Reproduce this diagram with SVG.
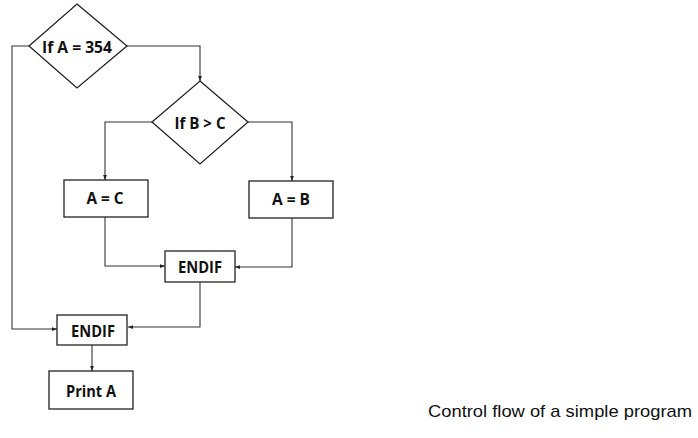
<svg xmlns="http://www.w3.org/2000/svg" width="698" height="438" viewBox="0 0 698 438">
<defs>
<style>
.shape{fill:#fff;stroke:#222;stroke-width:1.3}
.lbl{font-family:"Open Sans","Noto Sans",sans-serif;font-weight:bold;font-size:16.5px;fill:#111;text-anchor:middle}
.conn{fill:none;stroke:#333;stroke-width:1.1}
.cap{font-family:"Liberation Sans",Arial,sans-serif;font-size:17px;fill:#111}
</style>
<marker id="arr" viewBox="0 0 8 6" refX="8" refY="3" markerWidth="5" markerHeight="4" orient="auto" markerUnits="userSpaceOnUse">
<path d="M0,0 L8,3 L0,6 z" fill="#222"/>
</marker>
</defs>
<rect width="698" height="438" fill="#fff"/>
<g id="connectors">
<polyline class="conn" points="127,46 200,46 200,81" marker-end="url(#arr)"/>
<polyline class="conn" points="29,46 12,46 12,329 57,329" marker-end="url(#arr)"/>
<polyline class="conn" points="152,122 105,122 105,180" marker-end="url(#arr)"/>
<polyline class="conn" points="248,122 292,122 292,181" marker-end="url(#arr)"/>
<polyline class="conn" points="105,217 105,266 165,266" marker-end="url(#arr)"/>
<polyline class="conn" points="292,218 292,267 235,267" marker-end="url(#arr)"/>
<polyline class="conn" points="200,282 200,327 128,327" marker-end="url(#arr)"/>
<polyline class="conn" points="92,344 92,371" marker-end="url(#arr)"/>
</g>
<g id="if-a">
<polygon class="shape" points="77,4 127,46 77,88 29,46"/>
<text class="lbl" x="77" y="52.5" textLength="70" lengthAdjust="spacingAndGlyphs">If A = 354</text>
</g>
<g id="if-b">
<polygon class="shape" points="200,81 248,122 200,164 152,122"/>
<text class="lbl" x="200" y="129" textLength="51" lengthAdjust="spacingAndGlyphs">If B &gt; C</text>
</g>
<g id="a-eq-c">
<rect class="shape" x="64" y="180" width="84" height="37"/>
<text class="lbl" x="105" y="204" textLength="37" lengthAdjust="spacingAndGlyphs">A = C</text>
</g>
<g id="a-eq-b">
<rect class="shape" x="249" y="181" width="84" height="37"/>
<text class="lbl" x="291" y="204.5" textLength="38" lengthAdjust="spacingAndGlyphs">A = B</text>
</g>
<g id="endif-inner">
<rect class="shape" x="165" y="251" width="70" height="31"/>
<text class="lbl" x="200" y="273" textLength="44" lengthAdjust="spacingAndGlyphs">ENDIF</text>
</g>
<g id="endif-outer">
<rect class="shape" x="57" y="315" width="70" height="30"/>
<text class="lbl" x="93" y="337" textLength="44" lengthAdjust="spacingAndGlyphs">ENDIF</text>
</g>
<g id="print-a">
<rect class="shape" x="49" y="371" width="84" height="38"/>
<text class="lbl" x="91" y="396.5" textLength="50" lengthAdjust="spacingAndGlyphs">Print A</text>
</g>
<text class="cap" x="428" y="417" textLength="264" lengthAdjust="spacingAndGlyphs">Control flow of a simple program</text>
</svg>
